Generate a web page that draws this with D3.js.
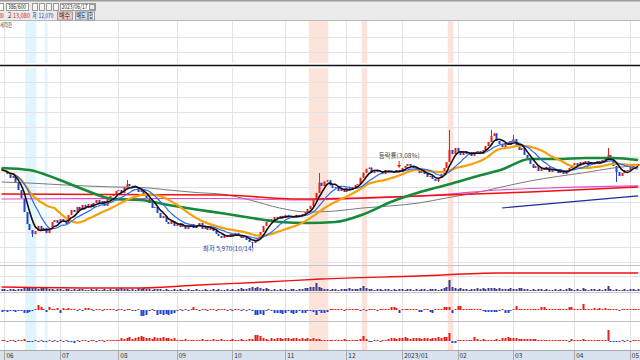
<!DOCTYPE html>
<html>
<head>
<meta charset="utf-8">
<script src="https://cdn.jsdelivr.net/npm/d3@7"></script>
<style>
  body { margin: 0; background: #fff; overflow: hidden; }
  svg { display: block; font-family: "Noto Sans CJK KR", "Noto Sans", sans-serif; }
</style>
</head>
<body>
<div id="chart"></div>
<script>
// daily closes, 2022/05 last day .. 2023/05
const closes = [
  12110, 12030, 11790, 11480, 11640, 11160, 10530, 9900, 8790, 7840,
  7370, 7050, 7290, 7690, 7290, 7530, 7130, 7450, 8000, 8160,
  7920, 8240, 8080, 7840, 8550, 8950, 8790, 9190, 8950, 9350,
  9110, 9420, 9190, 9500, 9740, 9420, 9660, 9270, 9820, 10060,
  10140, 10450, 10530, 10290, 10770, 11000, 10850, 10690, 10770, 10370,
  10530, 10060, 9820, 9500, 9110, 9190, 8710, 8320, 8480, 8000,
  7840, 8080, 7690, 7920, 7610, 7770, 7450, 7690, 7840, 7530,
  7690, 7920, 7450, 7690, 7370, 7610, 7290, 7060, 6900, 6740,
  6980, 6820, 7060, 6900, 7130, 6900, 6740, 6900, 6580, 6420,
  6340, 6500, 6740, 7210, 7690, 8000, 8240, 8160, 8400, 8320,
  8480, 8320, 8560, 8400, 8480, 8320, 8560, 8480, 8630, 8790,
  9030, 9270, 9740, 10300, 11100, 10850, 11200, 11300, 10900, 10700,
  10770, 10450, 10610, 10370, 10690, 10530, 10770, 10930, 11000, 11500,
  11900, 12200, 12300, 11870, 12110, 11950, 12030, 11790, 12110, 11950,
  12030, 11870, 12110, 11950, 12270, 12430, 12580, 12430, 12270, 12030,
  11870, 12110, 11790, 11560, 11640, 11400, 11240, 11480, 11790, 12270,
  12740, 13690, 13370, 13850, 13530, 13300, 13610, 13370, 13530, 13220,
  13450, 13610, 13370, 13690, 14010, 14320, 14800, 15000, 14400, 14160,
  13930, 14240, 14090, 14400, 14560, 14010, 13690, 13850, 13300, 13060,
  12580, 12270, 12430, 12030, 12270, 12110, 12350, 11950, 12190, 12030,
  11870, 12110, 11790, 12030, 12270, 12500, 12660, 12430, 12740, 12580,
  12820, 12500, 12740, 12580, 12820, 12660, 12900, 13060, 13300, 12900,
  12430, 11950, 11640, 11870, 12110, 12030, 12350, 12500, 12430, 12580
]
const firstOpen = 12270
// long wicks that stand out
const wickHi = { 45: 11320, 114: 11870, 161: 15270, 176: 15270, 184: 14870, 218: 13850 }
const wickLo = { 11: 6820, 90: 5970, 157: 11160, 221: 11160 }

// volume (10k shares)
const volume = [
  2, 2, 1, 2, 2, 1, 2, 2, 3, 3,  4, 3, 3, 2, 3, 3, 3, 2, 2, 1,
  2, 2, 1, 2, 2, 1, 2, 1, 2, 2,  1, 1, 2, 1, 2, 1, 1, 2, 1, 2,
  1, 2, 2, 3, 2, 2, 1, 2, 1, 3,  2, 3, 2, 2, 1, 2, 2, 2, 1, 2,
  1, 1, 2, 1, 2, 1, 1, 2, 1, 1,  2, 1, 1, 2, 1, 1, 2, 1, 2, 1,
  1, 2, 1, 2, 1, 2, 3, 2, 2, 3,  4, 3, 4, 3, 2, 3, 2, 1, 2, 1,
  2, 1, 2, 1, 2, 2, 1, 2, 2, 3,  3, 4, 4, 8, 4, 3, 2, 2, 1, 2,
  2, 1, 2, 2, 2, 3, 2, 2, 2, 3,  5, 3, 2, 2, 1, 2, 2, 1, 2, 2,
  1, 2, 1, 2, 2, 1, 2, 2, 1, 2,  1, 2, 2, 1, 2, 2, 2, 1, 2, 3,
  4, 11, 4, 3, 2, 3, 2, 2, 1, 2,  2, 3, 2, 3, 2, 3, 3, 3, 2, 3,
  2, 2, 2, 3, 2, 2, 3, 3, 2, 2,  1, 2, 1, 2, 2, 1, 2, 1, 1, 2,
  1, 2, 1, 2, 3, 2, 1, 2, 1, 3,  2, 1, 2, 2, 1, 2, 1, 2, 5, 2,
  1, 2, 1, 1, 2, 1, 2, 2, 1, 2
]
const volLineIdx = [0, 36, 50, 71, 95, 115, 150, 179, 200, 229]
const volLineVal = [4, 3, 3, 6, 9, 12, 15, 18, 18, 18]

// two lower indicator panels (+ buy / - sell)
const flowA = [
  -2, -1, -2, -1, -1, -2, -1, -1, -3, -3,  -2, -1, 1, 5, 3, 1, -2, 3, 1, 1,
  2, -3, 2, 1, 2, 1, 1, -1, 1, -1,  2, 2, 1, -1, 1, 1, -1, 1, 1, 1,
  1, -1, 1, 1, -1, 1, 1, -1, -1, 1,  -6, -6, -5, -1, 1, -1, -5, -4, -5, -4,
  -5, -4, -3, -1, 1, -1, 1, -1, 1, 3,  1, -1, 1, 1, -1, 1, 1, -1, 1, 1,
  1, -1, 1, -1, 1, 1, -1, 1, -1, 1,  -1, -5, -5, -4, -5, -1, 1, -1, -3, -3,
  -3, -4, -3, -1, -3, -4, -3, -1, -3, -3,  -1, -1, -2, -5, -1, -3, -3, -2, 1, 1,
  1, 1, 1, -1, 1, 1, 1, 1, 1, -1,  1, -1, 1, 1, 1, -1, 1, 1, 1, 1,
  3, 3, 2, -3, 1, 1, 1, 1, 1, 1,  -2, -2, 1, 1, -2, -3, 1, 1, 1, 3,
  3, 3, -3, 1, 4, 4, 1, 1, 1, 1,  1, 1, 1, -1, -2, -2, -2, -2, -2, -1,
  1, -3, -3, -1, 1, 4, 1, 1, 1, 1,  1, 1, 1, 1, 3, 3, 1, 1, 1, 1,
  1, 1, 1, 1, 3, 3, 1, 1, 1, 6,  1, 1, 1, 2, 1, 2, 1, 2, 1, 1,
  1, 1, -1, 1, 1, 1, 1, 1, 1, 1
]
const flowB = [
  1, 1, -1, 1, 1, -1, 1, 1, 2, -1,  -1, -1, 1, -1, 1, -1, -1, 1, -1, 1,
  -1, 1, -1, 1, -1, -1, -2, 1, -1, 1,  1, -1, 1, 1, -1, 1, 1, -1, 1, 1,
  1, 1, 1, 3, 2, 3, 4, 2, 3, 4,  5, 4, 3, 3, 2, 4, 3, 3, 4, 3,
  3, 2, 3, 1, 1, 1, 2, 1, 1, 1,  1, 1, 2, 1, 1, 1, 2, 1, 1, 2,
  1, 1, 1, 2, 1, 1, 2, 1, 1, 2,  2, 6, 6, 5, 3, 2, 1, 3, 2, 3,
  3, 2, 3, 3, 2, 3, 3, 2, 3, 2,  3, 2, 3, 2, 2, 1, 1, 1, 1, 1,
  1, 1, 1, 2, 1, 1, 1, 1, 1, 2,  5, 2, -1, -1, 1, 1, -1, 1, 1, 2,
  3, 3, 2, 3, 3, 4, 3, 2, 3, 3,  3, 2, 3, 3, 2, 3, 3, 4, 3, 4,
  4, 8, -2, -2, 1, 1, 1, 1, 1, 1,  4, 2, 1, 2, 1, 1, 1, 1, 2, 1,
  3, 3, 4, 3, 3, 3, 2, 2, 2, 2,  2, 2, 2, 1, 1, 1, 1, 1, 1, 1,
  1, 1, 1, 1, -1, 2, 1, 1, 1, 2,  1, 1, 1, 1, 1, 1, 1, 1, 11, -1,
  -1, -1, -1, 1, -1, 1, -1, 1, 1, 1
]

// long averages and trend lines
const longIdx = [0, 10, 20, 30, 40, 50, 60, 70, 80, 90, 100, 110, 120, 130, 140, 150, 160, 170, 180, 190, 200, 210, 220, 229]
const ma60 = [12270, 12110, 11400, 10530, 9820, 9740, 9350, 8990, 8670, 8320, 8000, 7920, 8000, 8600, 9580, 10330, 10930, 11560, 12150, 12980, 12980, 13060, 13060, 12900]
const ma120 = [11160, 11080, 10960, 10850, 10770, 10730, 10530, 10330, 10180, 9700, 9110, 8790, 8870, 9110, 9270, 9500, 9900, 10290, 10770, 11240, 11600, 11910, 12270, 12470]
const redIdx = [0, 79, 107, 150, 190, 229]
const redLine = [10210, 10140, 9820, 10060, 10370, 10770]
const pinkIdx = [0, 79, 107, 143, 161, 179, 197, 229]
const pinkLine = [9820, 9860, 9740, 9980, 10210, 10530, 10690, 10850]
const trendIdx = [180, 229]
const trendLine = [9110, 10060]
const hLine = 20370

// month axis
const monthLabels = ['06', '07', '08', '09', '10', '11', '12', '2023/01', '02', '03', '04', '05']
const monthStart = [1, 21, 42, 63, 83, 102, 124, 144, 164, 184, 206, 226]
// highlighted days
const blueBands = [[9, 12], [16, 16]]
const redBands = [[111, 117], [130, 131], [161, 162]]

const W = 640
const H = 360
const svg = d3.select('#chart').append('svg').attr('width', W).attr('height', H)
const n = closes.length
const x = d3.scaleLinear().domain([0, n - 1]).range([1.6, 638.2])
const step = x(1) - x(0)
const yPrice = d3.scaleLinear().domain([4605, 23960]).range([265, 20])
const yVol = d3.scaleLinear().domain([0, 26]).range([291, 265])
const yA = d3.scaleLinear().domain([-11, 18]).range([321, 292])
const yB = d3.scaleLinear().domain([-9, 20]).range([350, 321])

/* background, bands, grid */
svg.append('rect').attr('width', W).attr('height', H).attr('fill', '#fff')
const bandG = svg.append('g')
bandG.selectAll('.bb').data(blueBands).enter().append('rect')
  .attr('x', d => x(d[0]) - step / 2).attr('width', d => (d[1] - d[0] + 1) * step)
  .attr('y', 20).attr('height', 330).attr('fill', '#e1f5fd')
bandG.selectAll('.rb').data(redBands).enter().append('rect')
  .attr('x', d => x(d[0]) - step / 2).attr('width', d => (d[1] - d[0] + 1) * step)
  .attr('y', 20).attr('height', 330).attr('fill', '#fde3da')

const grid = svg.append('g').attr('stroke', '#e3e3e3').attr('stroke-width', 1)
grid.selectAll('.v').data(monthStart).enter().append('line')
  .attr('x1', d => Math.round(x(d)) + 0.5).attr('x2', d => Math.round(x(d)) + 0.5)
  .attr('y1', 20).attr('y2', 350)
// price grid every 15px
const priceGrid = d3.range(37, 264, 15).map(py => yPrice.invert(py))
grid.selectAll('.h').data(priceGrid).enter().append('line')
  .attr('x1', 0).attr('x2', W)
  .attr('y1', d => Math.round(yPrice(d)) + 0.5).attr('y2', d => Math.round(yPrice(d)) + 0.5)
grid.append('line').attr('x1', 0).attr('x2', W).attr('y1', 276.5).attr('y2', 276.5)
// panel separators
const sepG = svg.append('g').attr('stroke', '#c4c4c4')
;[265.5, 292.5, 321.5].forEach(py => {
  sepG.append('line').attr('x1', 0).attr('x2', W).attr('y1', py).attr('y2', py)
})

// horizontal black line with white strip
const hy = yPrice(hLine)
svg.append('rect').attr('x', 0).attr('y', hy - 2.5).attr('width', W).attr('height', 5).attr('fill', '#fff')
svg.append('line').attr('x1', 0).attr('x2', W).attr('y1', hy).attr('y2', hy)
  .attr('stroke', '#111').attr('stroke-width', 1.6)

/* candles */
const UP = '#ee1c14'
const DOWN = '#1f45d0'
const candles = closes.map((c, i) => {
  let o = i ? closes[i - 1] : firstOpen
  let hi = Math.max(o, c, wickHi[i] || 0)
  let lo = Math.min(o, c, wickLo[i] || Infinity)
  return { i, o, c, hi, lo }
})
const cg = svg.append('g')
cg.selectAll('.wick').data(candles).enter().append('line')
  .attr('x1', d => Math.round(x(d.i)) + 0.5).attr('x2', d => Math.round(x(d.i)) + 0.5)
  .attr('y1', d => yPrice(d.hi)).attr('y2', d => yPrice(d.lo))
  .attr('stroke', d => (d.c >= d.o ? UP : DOWN))
cg.selectAll('.body').data(candles).enter().append('rect')
  .attr('x', d => Math.round(x(d.i)) - 0.5).attr('width', 2)
  .attr('y', d => yPrice(Math.max(d.o, d.c)))
  .attr('height', d => Math.max(1, Math.abs(yPrice(d.o) - yPrice(d.c))))
  .attr('fill', d => (d.c >= d.o ? UP : DOWN))

/* moving averages */
const ma = (arr, k) => arr.map((d, i) => d3.mean(arr.slice(Math.max(0, i - k + 1), i + 1)))
const lineIdx = d3.line().x((d, i) => x(i)).y(d => yPrice(d))
const sampled = (idx, vals, curve) => d3.line()
  .x((d, i) => x(idx[i])).y(d => yPrice(d)).curve(curve)(vals)

const lines = svg.append('g').attr('fill', 'none').attr('stroke-linejoin', 'round')
lines.append('path').attr('d', sampled(longIdx, ma120, d3.curveMonotoneX))
  .attr('stroke', '#7a7a7a').attr('stroke-width', 1)
lines.append('path').attr('d', sampled(pinkIdx, pinkLine, d3.curveMonotoneX))
  .attr('stroke', '#e548c8').attr('stroke-width', 1.2)
lines.append('path').attr('d', sampled(redIdx, redLine, d3.curveMonotoneX))
  .attr('stroke', '#f01010').attr('stroke-width', 1.6)
lines.append('path').attr('d', sampled(trendIdx, trendLine, d3.curveLinear))
  .attr('stroke', '#1c2a9c').attr('stroke-width', 1.2)
lines.append('path').attr('d', sampled(longIdx, ma60, d3.curveMonotoneX))
  .attr('stroke', '#16893a').attr('stroke-width', 2.6)
lines.append('path').attr('d', lineIdx.curve(d3.curveMonotoneX)(ma(closes, 20)))
  .attr('stroke', '#f2a20c').attr('stroke-width', 2.2)
lines.append('path').attr('d', lineIdx.curve(d3.curveMonotoneX)(ma(closes, 10)))
  .attr('stroke', '#2a6cf0').attr('stroke-width', 1.2)
lines.append('path').attr('d', lineIdx.curve(d3.curveMonotoneX)(ma(closes, 5)))
  .attr('stroke', '#111').attr('stroke-width', 1.6)

/* annotations */
const lowI = 90
svg.append('text').attr('x', x(lowI) + 2).attr('y', yPrice(5970) + 3)
  .attr('text-anchor', 'end').attr('font-size', 6.5).attr('fill', '#2b3f9e')
  .text('최저 5,970(10/14)')
const markI = 143
const markY = yPrice(candles[markI].hi)
svg.append('text').attr('x', x(markI)).attr('y', markY - 12)
  .attr('text-anchor', 'middle').attr('font-size', 6.5).attr('fill', '#444')
  .text('등락률(3.08%)')
svg.append('line').attr('x1', x(markI)).attr('x2', x(markI))
  .attr('y1', markY - 9).attr('y2', markY - 3).attr('stroke', UP)
svg.append('path')
  .attr('d', `M${x(markI) - 2},${markY - 5}L${x(markI) + 2},${markY - 5}L${x(markI)},${markY - 2}Z`)
  .attr('fill', UP)

/* volume panel */
svg.append('g').selectAll('rect').data(volume).enter().append('rect')
  .attr('x', (d, i) => Math.round(x(i)) - 0.5).attr('width', 2)
  .attr('y', d => yVol(d)).attr('height', d => yVol(0) - yVol(d))
  .attr('fill', '#3c3c8c')
svg.append('path')
  .attr('d', d3.line().x((d, i) => x(volLineIdx[i])).y(d => yVol(d)).curve(d3.curveMonotoneX)(volLineVal))
  .attr('fill', 'none').attr('stroke', '#f01010').attr('stroke-width', 1.4)

/* flow panels */
const flowBars = (data, y) => {
  svg.append('g').selectAll('rect').data(data).enter().append('rect')
    .attr('x', (d, i) => Math.round(x(i)) - 0.5).attr('width', 2)
    .attr('y', d => (d >= 0 ? y(d) : y(0)))
    .attr('height', d => Math.abs(y(d) - y(0)))
    .attr('fill', d => (d >= 0 ? UP : DOWN))
}
flowBars(flowA, yA)
flowBars(flowB, yB)

/* x axis */
svg.append('rect').attr('x', 0).attr('y', 350).attr('width', W).attr('height', 10).attr('fill', '#d8e3ef')
svg.append('line').attr('x1', 0).attr('x2', W).attr('y1', 350.5).attr('y2', 350.5).attr('stroke', '#a9a9a9')
svg.append('g').selectAll('text').data(monthLabels).enter().append('text')
  .attr('x', (d, i) => x(monthStart[i]) + 2).attr('y', 358)
  .attr('font-size', 6.5).attr('fill', '#333')
  .text(d => d)
svg.append('g').attr('stroke', '#a9a9a9').selectAll('line').data(monthStart).enter().append('line')
  .attr('x1', d => Math.round(x(d)) + 0.5).attr('x2', d => Math.round(x(d)) + 0.5)
  .attr('y1', 351).attr('y2', 360)

/* toolbar */
const tb = svg.append('g')
tb.append('rect').attr('width', W).attr('height', 20).attr('fill', '#ebebeb')
tb.append('rect').attr('width', W).attr('height', 1.5).attr('fill', '#9c9c9c')
tb.append('line').attr('x1', 0).attr('x2', W).attr('y1', 20.5).attr('y2', 20.5).attr('stroke', '#b8b8b8')
const box = (bx, by, bw, bh, fill) =>
  tb.append('rect').attr('x', bx + 0.5).attr('y', by + 0.5).attr('width', bw).attr('height', bh)
    .attr('fill', fill).attr('stroke', '#9a9a9a')
// text squeezed to the width it has in the toolbar
const txt = (tx, ty, s, len, c) =>
  tb.append('text').attr('x', tx).attr('y', ty).attr('font-size', 6.5).attr('fill', c || '#222')
    .attr('textLength', len).attr('lengthAdjust', 'spacingAndGlyphs').text(s)
box(-1, 3, 4, 7, '#fff')
box(6, 3, 22, 7, '#fff')
txt(8, 9, '386/600', 18)
;[32, 39, 46, 53].forEach(bx => box(bx, 3, 5, 7, '#f4f4f4'))
box(60, 3, 35, 7, '#fff')
txt(61.5, 9, '2023/06/17', 26)
box(89, 4, 5, 5, '#e8e8e8')
txt(0, 18, '80', 4, '#e01010')
txt(7.5, 18, '고', 4)
txt(13, 18, '13,080', 17, '#e01010')
txt(32.5, 18, '저', 4)
txt(38.5, 18, '12,070', 15, '#1f45d0')
box(57, 11.5, 15, 8, '#f6c7c0')
txt(59, 18, '매수', 11)
box(75, 11.5, 12, 8, '#c9def6')
txt(76.5, 18, '매도', 9)
box(88, 11.5, 6, 8, '#f4f4f4')
txt(89, 18, '합', 4)
svg.append('text').attr('x', 0).attr('y', 27).attr('font-size', 6).attr('fill', '#555')
  .attr('textLength', 12).attr('lengthAdjust', 'spacingAndGlyphs').text('세력판')
</script>
</body>
</html>
